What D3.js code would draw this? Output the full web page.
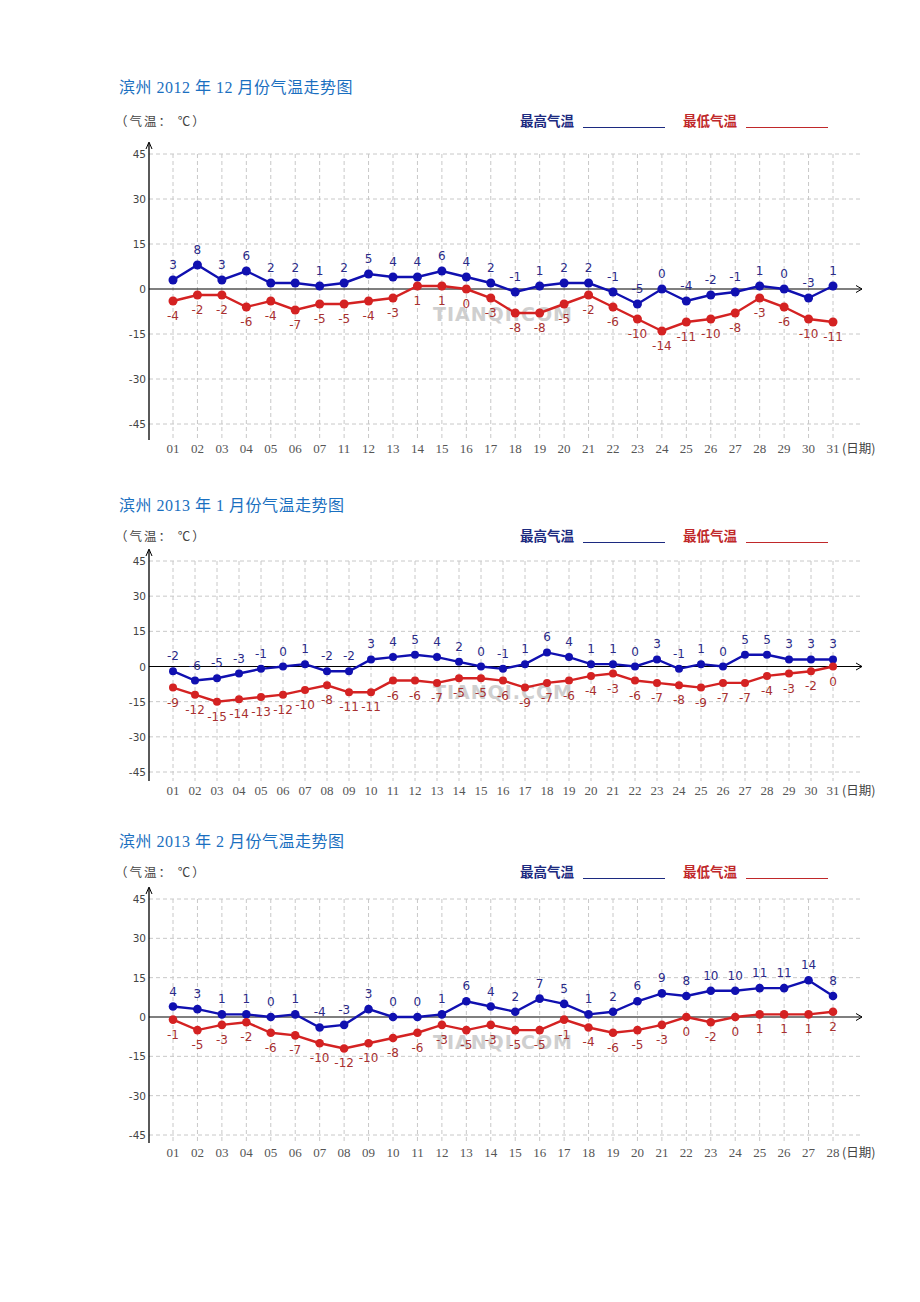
<!DOCTYPE html>
<html><head><meta charset="utf-8">
<script src="https://cdn.jsdelivr.net/npm/d3@7"></script>
<style>body{margin:0;background:#fff}</style>
</head><body>
<svg id="c" width="920" height="1302"></svg>
<script>
// ---------- data ----------
const yTicks = [45, 30, 15, 0, -15, -30, -45];

const decTitle = "滨州 2012 年 12 月份气温走势图";
const decDays = ["01","02","03","04","05","06","07","11","12","13","14","15","16","17","18","19","20","21","22","23","24","25","26","27","28","29","30","31"];
const decHigh = [3,8,3,6,2,2,1,2,5,4,4,6,4,2,-1,1,2,2,-1,-5,0,-4,-2,-1,1,0,-3,1];
const decLow  = [-4,-2,-2,-6,-4,-7,-5,-5,-4,-3,1,1,0,-3,-8,-8,-5,-2,-6,-10,-14,-11,-10,-8,-3,-6,-10,-11];

const janTitle = "滨州 2013 年 1 月份气温走势图";
const janDays = ["01","02","03","04","05","06","07","08","09","10","11","12","13","14","15","16","17","18","19","20","21","22","23","24","25","26","27","28","29","30","31"];
const janHigh = [-2,-6,-5,-3,-1,0,1,-2,-2,3,4,5,4,2,0,-1,1,6,4,1,1,0,3,-1,1,0,5,5,3,3,3];
const janLow  = [-9,-12,-15,-14,-13,-12,-10,-8,-11,-11,-6,-6,-7,-5,-5,-6,-9,-7,-6,-4,-3,-6,-7,-8,-9,-7,-7,-4,-3,-2,0];

const febTitle = "滨州 2013 年 2 月份气温走势图";
const febDays = ["01","02","03","04","05","06","07","08","09","10","11","12","13","14","15","16","17","18","19","20","21","22","23","24","25","26","27","28"];
const febHigh = [4,3,1,1,0,1,-4,-3,3,0,0,1,6,4,2,7,5,1,2,6,9,8,10,10,11,11,14,8];
const febLow  = [-1,-5,-3,-2,-6,-7,-10,-12,-10,-8,-6,-3,-5,-3,-5,-5,-1,-4,-6,-5,-3,0,-2,0,1,1,1,2];

// ---------- drawing ----------
const svg = d3.select("#c");
const HIGH = "#1010b0", LOW = "#d42222";

function drawChart(o) {
  const g = svg.append("g");
  const x0 = 149, xEnd = 862;
  const y = d3.scaleLinear().domain([-45, 45]).range([o.yBot, o.yTop]);
  const x = d3.scalePoint().domain(o.days).range([173, 833]);

  // title
  g.append("text").attr("x", 119).attr("y", o.titleY + 6)
    .attr("font-family", "Liberation Serif, Noto Sans CJK SC").attr("font-size", 16)
    .attr("letter-spacing", 0.5)
    .attr("fill", "#1a6fc0").text(o.title);
  // unit
  g.append("text").attr("x", 115).attr("y", o.subY + 5)
    .attr("font-family", "Noto Sans CJK SC").attr("font-size", 12.5)
    .attr("letter-spacing", 2)
    .attr("fill", "#444").text("（气温： ℃）");
  // legend
  const leg = [{t: "最高气温", c: "#1c2a80", x: 520}, {t: "最低气温", c: "#c0282a", x: 683}];
  leg.forEach(l => {
    g.append("text").attr("x", l.x).attr("y", o.subY + 5)
      .attr("font-family", "Noto Sans CJK SC").attr("font-size", 13.5).attr("font-weight", "bold")
      .attr("fill", l.c).text(l.t);
    g.append("line").attr("x1", l.x + 63).attr("x2", l.x + 145)
      .attr("y1", o.subY + 6.5).attr("y2", o.subY + 6.5)
      .attr("stroke", l.c).attr("stroke-width", 1.2);
  });

  // horizontal grid
  g.selectAll(".hg").data(yTicks.filter(d => d !== 0)).enter().append("line")
    .attr("x1", x0).attr("x2", xEnd).attr("y1", d => y(d)).attr("y2", d => y(d))
    .attr("stroke", "#c8c8c8").attr("stroke-dasharray", "4,3");
  // vertical grid
  g.selectAll(".vg").data(o.days).enter().append("line")
    .attr("x1", d => x(d)).attr("x2", d => x(d)).attr("y1", o.yTop).attr("y2", o.axisBot)
    .attr("stroke", "#c8c8c8").attr("stroke-dasharray", "4,3");

  // watermark
  g.append("text").attr("x", 503).attr("y", y(0) + 32)
    .attr("text-anchor", "middle").attr("font-family", "DejaVu Sans")
    .attr("font-weight", "bold").attr("font-size", 19).attr("letter-spacing", 1)
    .attr("fill", "#c4c4c4").attr("opacity", 0.8).text("TIANQI.COM");

  // y axis
  g.append("line").attr("x1", x0).attr("x2", x0).attr("y1", o.yTop - 11).attr("y2", o.axisBot)
    .attr("stroke", "#000").attr("stroke-width", 1.3);
  g.append("path").attr("d", `M${x0-3},${o.yTop-5} L${x0},${o.yTop-12} L${x0+3},${o.yTop-5}`)
    .attr("fill", "none").attr("stroke", "#000").attr("stroke-width", 1);
  g.selectAll(".yl").data(yTicks).enter().append("text")
    .attr("x", x0 - 3).attr("y", d => y(d) + 4).attr("text-anchor", "end")
    .attr("font-family", "DejaVu Sans").attr("font-size", 10.5).attr("fill", "#444")
    .text(d => d);
  // x axis (zero line)
  g.append("line").attr("x1", x0).attr("x2", xEnd).attr("y1", y(0)).attr("y2", y(0))
    .attr("stroke", "#000").attr("stroke-width", 1.2);
  g.append("path").attr("d", `M${xEnd-6},${y(0)-3.5} L${xEnd},${y(0)} L${xEnd-6},${y(0)+3.5}`)
    .attr("fill", "none").attr("stroke", "#000").attr("stroke-width", 1);

  // x labels
  g.selectAll(".xl").data(o.days).enter().append("text")
    .attr("x", d => x(d)).attr("y", o.labY + 5).attr("text-anchor", "middle")
    .attr("font-family", "Liberation Serif").attr("font-size", 13).attr("fill", "#555")
    .text(d => d);
  g.append("text").attr("x", 842).attr("y", o.labY + 5)
    .attr("font-family", "Noto Sans CJK SC").attr("font-size", 12.5).attr("fill", "#444")
    .text("(日期)");

  // series
  const series = [
    {v: o.high, c: HIGH, lc: "#2a2a88", dy: -11},
    {v: o.low, c: LOW, lc: "#a83030", dy: 19}
  ];
  series.forEach(s => {
    const line = d3.line().x((d, i) => x(o.days[i])).y(d => y(d));
    g.append("path").datum(s.v).attr("d", line).attr("fill", "none")
      .attr("stroke", s.c).attr("stroke-width", 2.4);
    g.selectAll(null).data(s.v).enter().append("circle")
      .attr("cx", (d, i) => x(o.days[i])).attr("cy", d => y(d)).attr("r", o.r)
      .attr("fill", s.c);
    g.selectAll(null).data(s.v).enter().append("text")
      .attr("x", (d, i) => x(o.days[i])).attr("y", d => y(d) + s.dy)
      .attr("text-anchor", "middle").attr("font-family", "DejaVu Sans")
      .attr("font-size", 12).attr("fill", s.lc)
      .text(d => d);
  });
}

drawChart({title: decTitle, days: decDays, high: decHigh, low: decLow, r: 4.5,
  titleY: 87, subY: 121, yTop: 154, yBot: 424, axisBot: 440, labY: 448});
drawChart({title: janTitle, days: janDays, high: janHigh, low: janLow, r: 4,
  titleY: 505, subY: 536, yTop: 561, yBot: 772, axisBot: 781, labY: 790});
drawChart({title: febTitle, days: febDays, high: febHigh, low: febLow, r: 4.3,
  titleY: 841, subY: 872, yTop: 899, yBot: 1135, axisBot: 1143, labY: 1152});
</script>
</body></html>
